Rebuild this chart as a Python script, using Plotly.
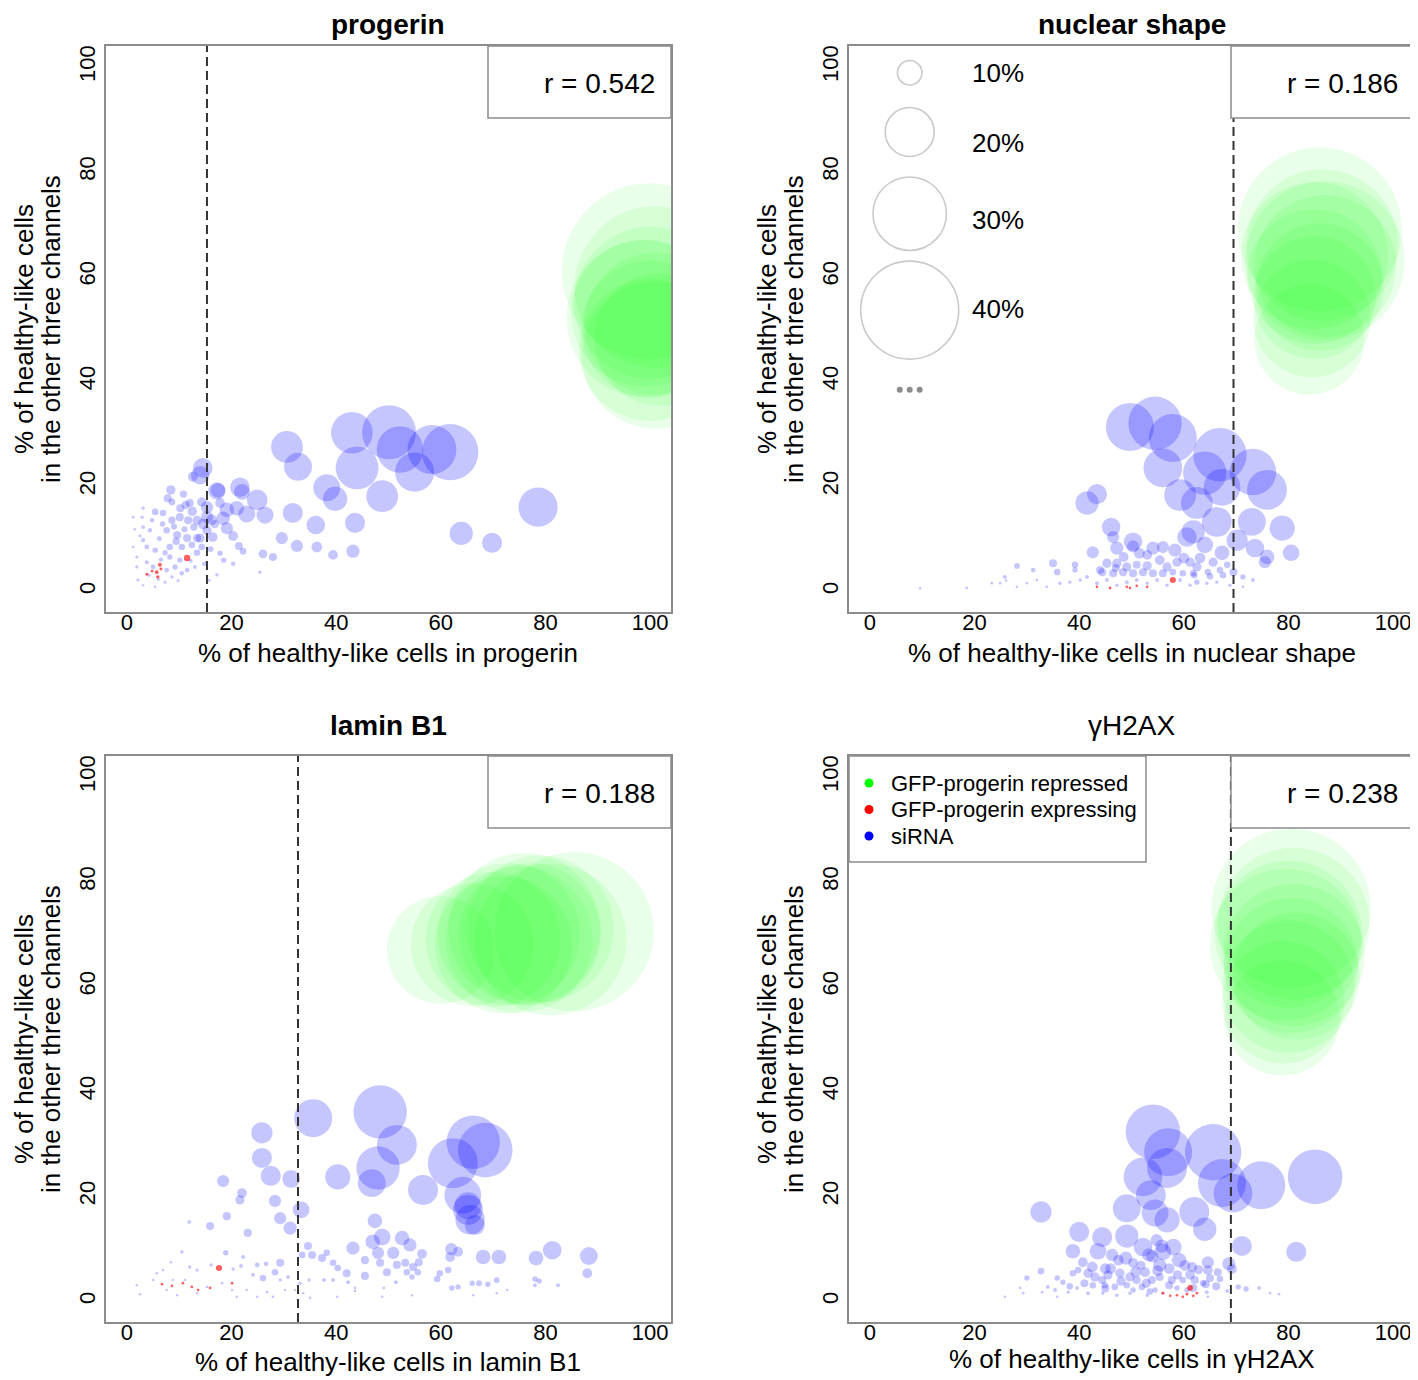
import plotly.graph_objects as go

# ---------------- DATA ----------------
TICK_VALUES = [0, 20, 40, 60, 80, 100]
PANEL_TITLES = ["<b>progerin</b>", "<b>nuclear shape</b>", "<b>lamin B1</b>", "γH2AX"]
X_TITLES = ["% of healthy-like cells in progerin", "% of healthy-like cells in nuclear shape",
            "% of healthy-like cells in lamin B1", "% of healthy-like cells in γH2AX"]
Y_TITLE_LINES = ["% of healthy-like cells", "in the other three channels"]
R_VALUES = ["r = 0.542", "r = 0.186", "r = 0.188", "r = 0.238"]
THRESHOLDS = [15.3, 69.5, 32.7, 69.0]
SIZE_LEGEND_PCT = [10, 20, 30, 40]
SIZE_LEGEND_LABELS = ["10%", "20%", "30%", "40%"]
GROUP_NAMES = ["GFP-progerin repressed", "GFP-progerin expressing", "siRNA"]

# Panel 1: progerin
P1_GREEN_X = [100, 101, 100, 99, 101, 100, 102, 100, 101, 99]
P1_GREEN_Y = [61, 58, 55, 53, 51, 50, 48, 46, 45, 52]
P1_GREEN_S = [72, 66, 62, 60, 58, 56, 54, 58, 60, 64]
P1_BLUE_X = [30.6, 32.7, 43, 50.1, 44, 52.2, 55, 58.3, 61.8, 48.8, 38.2, 39.8, 78.6, 63.9, 69.8, 43.6, 36.1, 31.7,
             26.4, 29.6, 32.5, 36.3, 39.4, 43.2, 26, 27.9, 25.4, 24.9,
             14.5, 14, 12.6, 17.2, 21.6, 22, 22.9, 21, 19.1, 18.4, 19.1, 20.3, 16.4, 21.4, 22.2, 18.5, 17.2, 8.4,
             7.8, 8.6, 12, 14.3, 15.3, 13.4, 11.7, 10.1, 8.6, 6.9, 5.4, 7.6, 9.6, 11.5, 13.4, 12.4, 10.5, 8.2, 7.3,
             5.4, 3.8, 3.1, 4.4, 3.1, 4.8, 2.9, 1.2, 3.1, 3.8, 5, 7.6, 9.2, 10.5, 11.5, 10.1, 8.2, 2.1, 3.1, 5.4,
             7.3, 8.6, 1.9, 1.9, 1.2, 15.3, 15.3, 14, 13.4, 14.3, 12.2,
             6.2, 9, 11, 12.8, 16.8, 17.8, 10.8, 6.5, 4.2, 6, 9.8, 13, 14.8, 2.5, 1.5, 6.8, 16, 17.8, 20.3, 15.7, 17.4,
             12.5, 10.2, 14.6, 16.2, 9.4, 11.2]
P1_BLUE_Y = [27.5, 23.7, 30.2, 30.3, 23.5, 27, 22.7, 27, 26.5, 18.1, 19.7, 17.6, 16, 11, 9.2, 13, 12.6, 14.9,
             14.5, 10.1, 8.6, 8.4, 6.9, 7.6, 7.1, 6.5, 3.6, 17.4,
             23.5, 22.1, 21.8, 19.1, 19.8, 18.9, 14.7, 15.8, 15.5, 13.9, 12, 10.5, 10.3, 8.6, 7.6, 5.9, 3.1, 19.3,
             17.7, 17, 16.8, 17, 16, 13.5, 13.5, 14.1, 13.5, 14.9, 15.1, 11.6, 10.7, 10.1, 10.1, 8.8, 8.4, 8.4, 7.3,
             7.8, 8.4, 9.7, 11.6, 12.2, 13.5, 14.1, 14.1, 15.8, 5.5, 4.6, 4, 4.6, 3.4, 4, 5.9, 6.5, 2.1, 1.1, 0.8,
             1.7, 2.7, 4.6, 6.5, 8.4, 14.1, 11.6, 10.1, 7.3, 8.4, 5.8,
             10, 12.3, 11.8, 12.2, 12.8, 16.8, 18.5, 6, 3, 2.2, 2, 4.6, 5.2, 10.5, 11.8, 12.8, 8, 7.2, 5.2, 2, 19.2,
             15.2, 15.8, 12.8, 13.6, 9.5, 16.4]
P1_BLUE_S = [13, 11.4, 17, 22, 17.5, 19, 16, 20, 23, 13, 11, 10, 16, 9.5, 8.2, 8.2, 7.6, 8.2,
             7, 5, 5, 4.4, 4, 5.4, 3.6, 3.3, 1.4, 8.5,
             8, 7.5, 4, 7, 8, 6.5, 7, 6, 6, 5.5, 5, 4, 4, 3.3, 2.8, 2.2, 1.4, 3.8,
             3.3, 2.8, 3.3, 3.8, 5, 3.8, 3.3, 3.3, 3, 2.7, 2.7, 2.7, 3.3, 3.3, 3.3, 2.7, 2.7, 2.7, 2.2,
             2.2, 2, 1.7, 1.8, 1.6, 1.8, 1.4, 1.2, 1.4, 1.6, 1.9, 1.9, 2.2, 1.9, 1.9, 2.2, 2.2, 1.3, 1.1, 1.1,
             1.3, 1.4, 1.3, 1.3, 1.1, 5, 3.8, 3.8, 2.7, 2.7, 1.6,
             2, 2.5, 2.5, 3, 3.5, 4, 3, 1.8, 1.4, 1.2, 1.3, 1.6, 1.8, 1.2, 1, 2.2, 2.4, 2.2, 1.8, 1.2, 6,
             3.8, 3.3, 4.4, 4.4, 3, 3.3]
P1_RED_X = [11.5, 6.3, 5.7, 5.9, 3.8, 4.8, 6.5]
P1_RED_Y = [6.3, 5, 3.6, 2.7, 3.2, 3.8, 4.2]
P1_RED_S = [2.6, 1.6, 1.5, 1.4, 1.2, 1.2, 1.2]

# Panel 2: nuclear shape
P2_GREEN_X = [86, 86.5, 85, 87, 85, 86, 85, 84.5, 84, 87]
P2_GREEN_Y = [69, 66, 64, 62, 60, 58, 56, 52, 48, 63]
P2_GREEN_S = [67, 62, 60, 58, 55, 52, 50, 48, 45, 65]
P2_BLUE_X = [49.7, 54.5, 57.9, 56, 66.9, 64, 73.2, 75.9, 59.3, 62.5, 67.3, 66.3, 61.8, 60.6, 64, 67.3, 70.2, 73,
             78.8, 73.6, 75.9, 75.5, 80.5, 41.5, 43.4, 46.1, 46.5, 42.6, 50.3, 50.3, 47.2, 54.1, 56, 58.3, 53, 55.4,
             58.7, 61.2, 63.1, 65.6, 62.5, 45.3, 47.2, 49.1, 51, 44.4, 46.5, 48.4, 50.3, 52.2, 54.1, 56, 57.9, 59.8,
             61.8, 64.6, 66.9, 68.3, 71.3, 73.2, 35, 35.8, 39.2, 39.2, 31.2, 28.1, 25.8, 23.3, 18.5, 24.9, 30, 31.9,
             33.8, 36.3, 38.2, 40.2, 41.5, 43.4, 45.3, 47.2, 49.1, 51, 53, 54.9, 56.8, 59.3, 61.2, 62.5, 64.4, 66.3,
             68.8, 71.3, 28.1, 26, 9.6,
             48.5, 51.5, 53, 56.8, 60, 47, 44, 62, 65, 67.5, 69.5]
P2_BLUE_Y = [31.3, 32, 29.2, 23.5, 26, 22.5, 22.7, 19.3, 18.3, 16.8, 19.8, 13.2, 11.3, 10.3, 8.8, 7.3, 9.7, 13.2,
             12, 8.2, 6.5, 5.5, 7.3, 16.8, 18.5, 12.2, 10.3, 7.4, 9.4, 8.5, 8.2, 8.2, 8.4, 7.8, 6.9, 5.9,
             5.5, 5.5, 6.3, 5.5, 4.6, 5.3, 5.3, 4.6, 5, 3.6, 3.4, 3.6, 3.4, 3.6, 3.4, 3.4, 3.6, 3.4,
             3.4, 3.6, 4, 5, 2.7, 2.1, 5.3, 3.6, 5, 4, 4, 4.8, 2.7, 1.5, 0.6, 1.5, 1.5, 2.1,
             0.8, 1.5, 1.7, 2.1, 2.7, 1.5, 2.1, 1.1, 1.7, 2.1, 1.5, 2.1, 1.1, 2.1, 1.1, 1.7, 1.5, 1.7,
             1.1, 0.8, 0.8, 2, 0.5,
             6.5, 7.2, 4.8, 4.6, 6.3, 4.4, 4, 3, 2.8, 3, 3.6]
P2_BLUE_S = [19.6, 21.8, 19.6, 15.8, 21.8, 17.7, 19, 16.3, 13, 13, 15, 12.2, 9.5, 8, 6.8, 6, 8.7, 11.4,
             10.3, 7.6, 6, 5, 6.8, 9.5, 8.2, 7.6, 5, 5, 7.6, 5, 5.4, 5.4, 5, 5.4, 4, 4,
             3.8, 3.8, 4.4, 3.8, 3.8, 3.8, 3.8, 3.8, 3.3, 3.3, 3.3, 3.3, 3.3, 3.3, 3.3, 3.3, 2.7, 2.7,
             2.7, 2.7, 2.7, 2.7, 2.2, 1.6, 3.3, 2.7, 2.7, 2.2, 1.9, 2.4, 1.6, 1.1, 0.8, 1.1, 1.1, 1.1,
             0.8, 1.4, 1.4, 1.4, 1.6, 1.6, 1.6, 1.4, 1.6, 1.6, 1.4, 1.6, 1.4, 1.6, 1.4, 2.2, 1.4, 1.4,
             1.4, 1.1, 0.8, 1.1, 0.8,
             4, 4.4, 3.8, 3.8, 4.4, 3.3, 3.3, 2.7, 2.7, 2.7, 3.3]
P2_RED_X = [57.9, 43.4, 45.9, 49.1, 51, 53, 49.7]
P2_RED_Y = [2.1, 0.8, 0.6, 0.8, 1, 0.8, 0.6]
P2_RED_S = [2.5, 1.1, 1.1, 1.1, 1.1, 1.1, 1.1]

# Panel 3: lamin B1
P3_GREEN_X = [60, 66, 70, 73, 75, 77, 79, 81, 85.5, 72, 76]
P3_GREEN_Y = [67, 68, 69, 70, 69, 70, 71, 69, 70.5, 68, 71]
P3_GREEN_S = [44, 50, 55, 58, 60, 58, 60, 62, 65, 56, 62]
P3_BLUE_X = [48.4, 35.6, 51.6, 48, 46.8, 40.3, 66.2, 68.5, 62.3, 56.6, 64.2, 65.2, 65.2, 66.5, 25.8, 25.8, 27.5,
             31.4, 18.4, 22, 21.6, 28.3, 33.3, 29.3, 19.1, 15.9, 31.2, 23.1, 11.9, 47.4, 48.8, 52.6, 47, 54.1,
             43.2, 48, 50.9, 56.4, 62, 63.3, 68.1, 71.1, 78.2, 81.3, 88.3, 88, 61.8, 34.6, 33.5, 35.4, 37.3, 38.2,
             39.4, 40.3, 42, 45.5, 45.5, 48.4, 49.7, 51.6, 53.2, 54.7, 55.8, 55.6, 53.5, 54.5, 59.3, 59.8, 61.4,
             62.1, 63.3, 66, 67.3, 69, 70.7, 78, 78.8, 78, 82.4, 51.4, 49.1, 43.6, 42.3, 39.4, 37.7, 34.8, 33.1,
             30.8, 29.3, 28.3, 29.3, 26.6, 24.9, 26, 24.1, 21.8, 20.3, 22.2, 18.9, 16.1, 13.4, 12, 10.5, 8.4, 6.9,
             5.7, 5, 1.9, 2.5, 7.6, 9.6, 11.1, 8.8, 13.4, 15.3, 18.2, 20.1, 21, 22.9, 24.9, 26.8, 27.9, 30.2, 32.1,
             33.7, 35, 40.2, 43.6, 48.8, 54.5, 66.2, 70.7, 72.7, 65.6]
P3_BLUE_Y = [36.1, 34.9, 29.8, 25.4, 22.5, 23.7, 30.3, 28.8, 26.3, 21.2, 20.2, 17.4, 18.2, 14.5, 32.1, 27.3, 23.9,
             23.3, 22.9, 20.6, 19.3, 19.1, 17.4, 15.8, 16.2, 14.3, 13.9, 13, 15.1, 15.3, 12.2, 12, 11.3, 10.7,
             10.1, 9.2, 9.2, 9, 9.9, 9.4, 8.4, 8.4, 8.2, 9.7, 8.6, 5.3, 8.4, 10.5, 8.8, 8.8, 8.2, 9.2,
             7.3, 6.3, 5.3, 4.8, 7.8, 7.3, 5.5, 6.9, 7.3, 6.5, 7.4, 5.5, 5.5, 4.6, 4.2, 5.3, 5.9,
             2.5, 2.7, 3.4, 3.4, 3.2, 4, 4.2, 3.8, 3, 3, 3.6, 2.5, 2.5, 3.6, 4, 4, 4, 3.4,
             4.6, 4, 5.5, 7.3, 7.1, 6.9, 4.4, 5, 6.7, 6.1, 8.4, 9.2, 6.9, 5.9, 6.5, 9.4, 7.4, 5.9,
             5.3, 4, 3, 1.3, 2.1, 1.1, 4, 4, 1.5, 2.7, 3.4, 2.1, 0.8, 2.1, 0.8, 1.7, 0.8, 2.1, 2.1,
             1.5, 0.6, 0.8, 1.9, 0.8, 1.1, 1.1, 1.5, 2.1, 15.5]
P3_BLUE_S = [21.8, 15.5, 16.3, 17.7, 11.4, 10.3, 21.8, 22.3, 20.4, 12.2, 15, 12.2, 11, 8.2, 8.7, 8.2, 8.2,
             7.3, 5, 4, 3.8, 5, 6.8, 5, 3.3, 3.3, 5.4, 3.3, 1.6, 6, 6.8, 6, 6, 5.4,
             5.4, 5, 5, 4, 5, 4, 6, 6, 6, 7.6, 7.3, 4, 4, 3.3, 2.7, 3.3, 3.3, 2.7,
             2.7, 2.7, 3.3, 3.3, 3.3, 3.3, 3.3, 3.3, 3.3, 3.3, 3.3, 2.7, 2.7, 2.2, 2.7, 2.7, 2.7,
             2.2, 2.2, 2.2, 2.4, 2.2, 2.4, 2.2, 2.2, 1.6, 1.6, 1.6, 1.1, 1.1, 1.6, 1.6, 1.6, 1.4, 1.4,
             1.6, 1.4, 2.7, 3.3, 1.9, 1.9, 2.7, 1.6, 1.6, 1.4, 1.6, 2.2, 1.4, 1.4, 1.4, 1.4, 1.1, 1.1,
             1.1, 0.8, 0.8, 0.8, 0.8, 0.8, 1.1, 1.1, 0.8, 0.8, 1.1, 0.8, 0.8, 0.8, 0.8, 0.8, 0.8, 0.8, 0.8,
             0.8, 0.8, 0.8, 0.8, 0.8, 0.8, 0.8, 0.8, 0.8, 12]
P3_RED_X = [17.6, 6.7, 8.6, 10.7, 12.4, 13.6, 15.9, 20.1]
P3_RED_Y = [6.3, 3.2, 2.9, 3.4, 2.7, 2.1, 2.5, 3.4]
P3_RED_S = [2.5, 1.1, 1.1, 1.1, 1.1, 1.1, 1.1, 1.1]

# Panel 4: gammaH2AX
P4_GREEN_X = [80.5, 81, 80, 79.5, 81, 80.5, 81.5, 80, 79, 78.8]
P4_GREEN_Y = [75, 72, 70, 68, 66, 64, 62, 60, 57, 54]
P4_GREEN_S = [65, 62, 60, 62, 58, 55, 52, 54, 50, 47]
P4_BLUE_X = [54.1, 57, 65.6, 56.8, 52.2, 67.3, 74.8, 69.4, 85.1, 53.7, 49.1, 54.5, 56.8, 62, 64, 32.7, 40, 44.4,
             49.1, 52.2, 56, 58, 59.1, 55.4, 53.3, 48.9, 50.3, 46.3, 43.6, 38.8, 40.7, 71.1, 81.5, 68.6, 69.2, 64.6,
             64.6, 66.5, 61.6, 61.2, 62.1, 65, 66.9, 63.7, 59.8, 57.7, 55.4, 53.9, 52.6, 51, 49.7, 47.8, 45.5, 44.4,
             43, 41.7, 42.6, 44.9, 46.8, 49.1, 52, 50.3, 54.5, 58.7, 60.6, 64.4, 68.3, 70.4, 71.9, 74.4, 76.5, 78.2,
             39.8, 38.8, 36.9, 35.8, 32.7, 30, 34, 35.4, 37.9, 39.6, 41.7, 29.3, 28.7, 25.8, 32.9, 35.8, 44.5, 47.2,
             49.7, 53, 56, 64.6, 54, 45,
             42.5, 46, 48, 50.8, 52.8, 55, 57.2, 58.8, 60.2, 62.8, 64.2, 66.2, 47.5, 51.8, 45, 53.5, 57.2, 61.8,
             41, 38.2, 55.8, 54.8]
P4_BLUE_Y = [32.3, 28.4, 28.4, 25.4, 23.7, 22.5, 22.1, 20.6, 23.7, 20.2, 17.7, 16.8, 15.5, 17, 13.7, 17, 13.2, 12.2,
             12.4, 10.3, 9.4, 10.3, 7.8, 6.9, 8.8, 8.2, 7.3, 8.8, 9.5, 9.5, 7.4, 10.5, 9.4, 7.1, 6.1, 7.4,
             5.9, 5.5, 6.5, 5, 4, 4.4, 4.2, 3.4, 4, 4, 4.6, 4, 5.5, 4, 4.6, 5.3, 5, 4,
             4.6, 5.3, 3, 3, 2.7, 3, 2.7, 2.1, 2.1, 2.5, 2.1, 1.7, 1.9, 2.7, 2.3, 2.5, 1.5, 1.3,
             5.9, 5.3, 3.6, 4.4, 5.7, 4.4, 2.7, 2.1, 1.7, 2.5, 1.5, 1.5, 2.5, 0.8, 1.7, 0.8, 1.5, 1.1,
             1.5, 1.1, 1.5, 0.8, 8.5, 6.2,
             6.5, 6.2, 3.8, 5.6, 3.4, 5.8, 6.2, 5, 6.8, 6, 3.2, 2.8, 7.8, 6.8, 2.4, 1.8, 3, 2.5,
             3.4, 2.8, 10.5, 11.6]
P4_BLUE_S = [22.3, 19.6, 23, 16.3, 15.8, 19.6, 19.6, 15.8, 22.3, 12.2, 11.4, 11, 10.3, 12.2, 9.5, 8.7, 8.2, 8.2,
             9.5, 7.6, 6.8, 6.8, 6, 5.4, 5.4, 5.4, 4, 5, 6.8, 6, 4, 8.2, 8.2, 5.4, 4, 5,
             4, 3.3, 4, 4, 3.3, 3.3, 2.7, 2.7, 2.7, 3.3, 3.3, 3.3, 4, 3.3, 3.8, 3.8, 3.8, 3.3,
             3.8, 3.8, 2.7, 2.7, 2.7, 2.7, 2.7, 2.2, 2.2, 2.2, 2.2, 1.6, 1.6, 2.2, 2.2, 1.6, 1.1, 1.1,
             2.7, 2.7, 2.2, 2.2, 2.7, 2.2, 1.6, 1.6, 1.4, 1.6, 1.6, 1.1, 1.1, 0.8, 1.1, 0.8, 1.4, 1.4,
             1.4, 1.4, 1.4, 1.1, 5, 4.4,
             4.4, 4.4, 3.8, 4.4, 3.8, 4.4, 4.4, 3.8, 4.4, 3.8, 3.3, 3.3, 4.4, 3.8, 3.3, 2.7, 3.3, 3.3,
             3.3, 2.7, 5.4, 5]
P4_RED_X = [61.2, 56, 57.4, 58.7, 59.8, 60.6, 61.8, 62.5]
P4_RED_Y = [2.5, 1.5, 1, 1.1, 0.8, 1.3, 1, 1.5]
P4_RED_S = [2.3, 1.1, 1.1, 1.1, 1.1, 1.1, 1.1, 1.1]

PANEL_DATA = [
    ((P1_GREEN_X, P1_GREEN_Y, P1_GREEN_S), (P1_BLUE_X, P1_BLUE_Y, P1_BLUE_S), (P1_RED_X, P1_RED_Y, P1_RED_S)),
    ((P2_GREEN_X, P2_GREEN_Y, P2_GREEN_S), (P2_BLUE_X, P2_BLUE_Y, P2_BLUE_S), (P2_RED_X, P2_RED_Y, P2_RED_S)),
    ((P3_GREEN_X, P3_GREEN_Y, P3_GREEN_S), (P3_BLUE_X, P3_BLUE_Y, P3_BLUE_S), (P3_RED_X, P3_RED_Y, P3_RED_S)),
    ((P4_GREEN_X, P4_GREEN_Y, P4_GREEN_S), (P4_BLUE_X, P4_BLUE_Y, P4_BLUE_S), (P4_RED_X, P4_RED_Y, P4_RED_S)),
]

# ---------------- STYLE / LAYOUT ----------------
PAGE_W, PAGE_H = 1418, 1380
OFF = 8                      # default body margin of the html page
W, H = PAGE_W - OFF, PAGE_H - OFF
FONT = "Liberation Sans, Arial, sans-serif"
FRAME = "#8c8c8c"
DIAM_PER_PCT = 2.45
MIN_DIAM = 2.6
GREEN = "rgba(0,255,0,0.12)"
BLUE = "rgba(0,0,255,0.32)"
RED = "rgba(255,0,0,0.9)"
GROUP_COLORS = ["#00ff00", "#ff0000", "#0000ff"]
# pixel boxes (page coordinates) of the four plotting regions (left, right, top, bottom)
BOXES = [(106, 671, 46, 612), (849, 1414, 46, 612), (106, 671, 756, 1322), (849, 1414, 756, 1322)]
TITLE_GAP = [21, 21, 31, 31]
XTITLE_GAP = [41, 41, 40, 37]
YTITLE_POS = [(24, 51), (767, 794), (24, 51), (767, 794)]


def fx(px):
    return (px - OFF) / W


def fy(py):
    return 1 - (py - OFF) / H


def diam(sizes):
    return [max(s * DIAM_PER_PCT, MIN_DIAM) for s in sizes]


fig = go.Figure()
layout = dict(width=W, height=H, margin=dict(l=0, r=0, t=0, b=0, pad=0), autosize=False,
              plot_bgcolor="white", paper_bgcolor="white", showlegend=False,
              font=dict(family=FONT, color="black"))
shapes, annotations = [], []

for i, (box, data) in enumerate(zip(BOXES, PANEL_DATA)):
    n = i + 1
    sfx = "" if n == 1 else str(n)
    xa, ya = "x" + sfx, "y" + sfx
    l, r, t, b = box
    axis_common = dict(range=[-4, 104], showline=True, mirror=True, linecolor=FRAME, linewidth=1.5,
                       showgrid=False, zeroline=False, ticks="", tickvals=TICK_VALUES,
                       tickfont=dict(size=22, color="black", family=FONT), fixedrange=True)
    layout["xaxis" + sfx] = dict(domain=[fx(l), fx(r)], anchor=ya, ticklabelstandoff=-10, **axis_common)
    layout["yaxis" + sfx] = dict(domain=[fy(b), fy(t)], anchor=xa, tickangle=-90, ticklabelstandoff=0,
                                 **axis_common)

    (gx, gy, gs), (bx, by, bs), (rx, ry, rs) = data
    fig.add_trace(go.Scatter(x=gx, y=gy, mode="markers", xaxis=xa, yaxis=ya,
                             marker=dict(size=diam(gs), color=GREEN, line=dict(width=0)), hoverinfo="skip"))
    fig.add_trace(go.Scatter(x=bx, y=by, mode="markers", xaxis=xa, yaxis=ya,
                             marker=dict(size=diam(bs), color=BLUE, line=dict(width=0)), hoverinfo="skip"))
    fig.add_trace(go.Scatter(x=rx, y=ry, mode="markers", xaxis=xa, yaxis=ya,
                             marker=dict(size=diam(rs), color=RED, line=dict(width=0)), hoverinfo="skip"))

    # dashed threshold line
    shapes.append(dict(type="line", xref=xa, yref=ya + " domain", x0=THRESHOLDS[i], x1=THRESHOLDS[i],
                       y0=0, y1=1, line=dict(color="#333333", width=2, dash="9px,5px"), layer="above"))
    # r box
    shapes.append(dict(type="rect", xref=xa + " domain", yref=ya + " domain", x0=(488 - 106) / 565, x1=1,
                       y0=(566 - 72) / 566, y1=1, line=dict(color=FRAME, width=1.5), fillcolor="white",
                       layer="above"))
    annotations.append(dict(text=R_VALUES[i], xref=xa + " domain", yref=ya + " domain", x=0.975,
                            y=(566 - 37) / 566, xanchor="right", yanchor="middle", showarrow=False,
                            font=dict(size=28, family=FONT, color="black")))
    cx = (l + r) / 2
    annotations.append(dict(text=PANEL_TITLES[i], xref="paper", yref="paper", x=fx(cx), y=fy(t - TITLE_GAP[i]),
                            xanchor="center", yanchor="middle", showarrow=False,
                            font=dict(size=28, family=FONT, color="black")))
    annotations.append(dict(text=X_TITLES[i], xref="paper", yref="paper", x=fx(cx), y=fy(b + XTITLE_GAP[i]),
                            xanchor="center", yanchor="middle", showarrow=False,
                            font=dict(size=26, family=FONT, color="black")))
    cy = (t + b) / 2
    for k, line in enumerate(Y_TITLE_LINES):
        annotations.append(dict(text=line, xref="paper", yref="paper", x=fx(YTITLE_POS[i][k]), y=fy(cy),
                                xanchor="center", yanchor="middle", textangle=-90, showarrow=False,
                                font=dict(size=26, family=FONT, color="black")))

# size legend in panel 2 (glyphs use the same size mapping as the data)
SL_X = 7.6
SL_Y = [98.9, 87.6, 72.0, 53.6]
SL_LABEL_Y = [98.9, 85.5, 70.8, 53.8]
fig.add_trace(go.Scatter(x=[SL_X] * 4, y=SL_Y, mode="markers", xaxis="x2", yaxis="y2",
                         marker=dict(size=diam(SIZE_LEGEND_PCT), color="rgba(0,0,0,0)",
                                     line=dict(color="#b4b4b4", width=1.6)), hoverinfo="skip", cliponaxis=False))
fig.add_trace(go.Scatter(x=[5.7, 7.6, 9.5], y=[38.4] * 3, mode="markers", xaxis="x2", yaxis="y2",
                         marker=dict(size=6, color="#8c8c8c"), hoverinfo="skip"))
for lab, yv in zip(SIZE_LEGEND_LABELS, SL_LABEL_Y):
    annotations.append(dict(text=lab, xref="x2", yref="y2", x=19.1, y=yv, xanchor="left", yanchor="middle",
                            showarrow=False, font=dict(size=26, family=FONT, color="black")))

# colour legend box in panel 4
shapes.append(dict(type="rect", xref="paper", yref="paper", x0=fx(849), x1=fx(1146), y0=fy(862), y1=fy(756),
                   line=dict(color=FRAME, width=1.5), fillcolor="white", layer="above"))
for k, (name, col) in enumerate(zip(GROUP_NAMES, GROUP_COLORS)):
    row_y = 783 + 26.5 * k
    shapes.append(dict(type="circle", xref="paper", yref="paper", xsizemode="pixel", ysizemode="pixel",
                       xanchor=fx(869), yanchor=fy(row_y), x0=-4.5, x1=4.5, y0=-4.5, y1=4.5,
                       fillcolor=col, line=dict(width=0), layer="above"))
    annotations.append(dict(text=name, xref="paper", yref="paper", x=fx(889), y=fy(row_y), xanchor="left",
                            yanchor="middle", showarrow=False, font=dict(size=22, family=FONT, color="black")))

layout["shapes"] = shapes
layout["annotations"] = annotations
fig.update_layout(**layout)
fig.write_html("out.html")
